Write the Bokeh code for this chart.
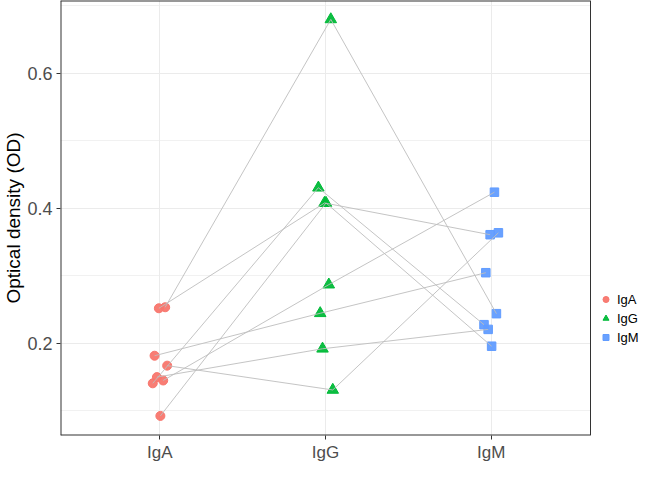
from bokeh.plotting import figure
from bokeh.models import Range1d, FixedTicker, Legend, LegendItem, ColumnDataSource
from bokeh.embed import file_html
from bokeh.resources import INLINE

# ---- data ----
groups = ["IgA", "IgG", "IgM"]
iga = [0.2535, 0.252, 0.1408, 0.0925, 0.1817, 0.167, 0.145, 0.150]
igg = [0.680, 0.408, 0.4306, 0.408, 0.2446, 0.131, 0.287, 0.192]
igm = [0.244, 0.361, 0.2277, 0.1958, 0.3047, 0.3638, 0.424, 0.2207]
jitter = [0.032, -0.006, -0.043, 0.003, -0.032, 0.044, 0.02, -0.018]
y_ticks = [0.2, 0.4, 0.6]
y_minor = [0.1, 0.3, 0.5, 0.7]
colors = ["#F8766D", "#00BA38", "#619CFF"]
markers = ["circle", "triangle", "square"]

FONT = "Liberation Sans"

W, H = 647, 464
LEFT = 60
PANEL_W = 530             # width of the bordered panel in pixels
X0, X1 = 0.4, 3.6         # discrete axis limits
Y0, Y1 = 0.0635, 0.708
x_end = X0 + (W - LEFT) * (X1 - X0) / PANEL_W   # frame extends under legend area

p = figure(width=W, height=H, output_backend="svg", toolbar_location=None,
           x_range=Range1d(X0, x_end), y_range=Range1d(Y0, Y1),
           min_border_left=LEFT, min_border_right=0, min_border_top=0, min_border_bottom=10)

p.background_fill_color = "white"
p.border_fill_color = "white"
p.outline_line_color = None

# grids
p.xgrid.ticker = FixedTicker(ticks=[1, 2, 3])
p.ygrid.ticker = FixedTicker(ticks=y_ticks, minor_ticks=y_minor)
for g in (p.xgrid, p.ygrid):
    g.grid_line_color = "#EBEBEB"
    g.grid_line_width = 1
p.ygrid.minor_grid_line_color = "#EBEBEB"
p.ygrid.minor_grid_line_width = 0.7

# white mask for the area right of the panel (legend area)
p.quad(left=[X1], right=[x_end], bottom=[Y0], top=[Y1],
       fill_color="white", line_color=None)

# axes
p.xaxis.ticker = FixedTicker(ticks=[1, 2, 3])
p.xaxis.major_label_overrides = {1: groups[0], 2: groups[1], 3: groups[2]}
p.yaxis.ticker = FixedTicker(ticks=y_ticks)
for ax in (p.xaxis, p.yaxis):
    ax.axis_line_color = None
    ax.major_tick_line_color = "#333333"
    ax.major_tick_in = 0
    ax.major_tick_out = 4
    ax.minor_tick_line_color = None
    ax.major_label_text_color = "#4D4D4D"
    ax.major_label_text_font = FONT
    ax.axis_label_text_font = FONT
    ax.axis_label_text_font_style = "normal"
    ax.axis_label_text_color = "black"
p.xaxis.major_label_text_font_size = "17px"
p.yaxis.major_label_text_font_size = "18px"
p.yaxis.axis_label = "Optical density (OD)"
p.yaxis.axis_label_text_font_size = "19px"
p.yaxis.major_label_standoff = 4
p.yaxis.axis_label_standoff = 0
p.xaxis.major_label_standoff = 3

# points
vals = [iga, igg, igm]
items = []
for gi, (name, v) in enumerate(zip(groups, vals)):
    src = ColumnDataSource(dict(x=[gi + 1 + j for j in jitter], y=v))
    size = {"circle": 9, "triangle": 11.5, "square": 8.5}[markers[gi]]
    r = p.scatter("x", "y", source=src, marker=markers[gi], size=size,
                  fill_color=colors[gi], line_color=colors[gi], fill_alpha=0.95)
    items.append(LegendItem(label=name, renderers=[r]))

# paired lines
xs = [[1 + j, 2 + j, 3 + j] for j in jitter]
ys = [[a, g, m] for a, g, m in zip(iga, igg, igm)]
p.multi_line(xs=xs, ys=ys, line_color="#BDBDBD", line_width=0.9)

# panel border (left/top/bottom sit on the frame edge and are half clipped)
p.segment(x0=[X0, X0, X0], y0=[Y0, Y1, Y0], x1=[X0, X1, X1], y1=[Y1, Y1, Y0],
          line_color="#333333", line_width=2)
p.segment(x0=[X1], y0=[Y0], x1=[X1], y1=[Y1], line_color="#333333", line_width=1)

legend = Legend(items=items, location=(538, 90))
legend.background_fill_alpha = 0
legend.border_line_color = None
legend.label_text_font = FONT
legend.label_text_font_size = "13px"
legend.label_text_color = "black"
legend.glyph_width = 15
legend.glyph_height = 16
legend.label_standoff = 4
legend.spacing = 3
legend.padding = 0
legend.margin = 0
p.add_layout(legend, "center")

open("out.html", "w").write(file_html(p, INLINE))
